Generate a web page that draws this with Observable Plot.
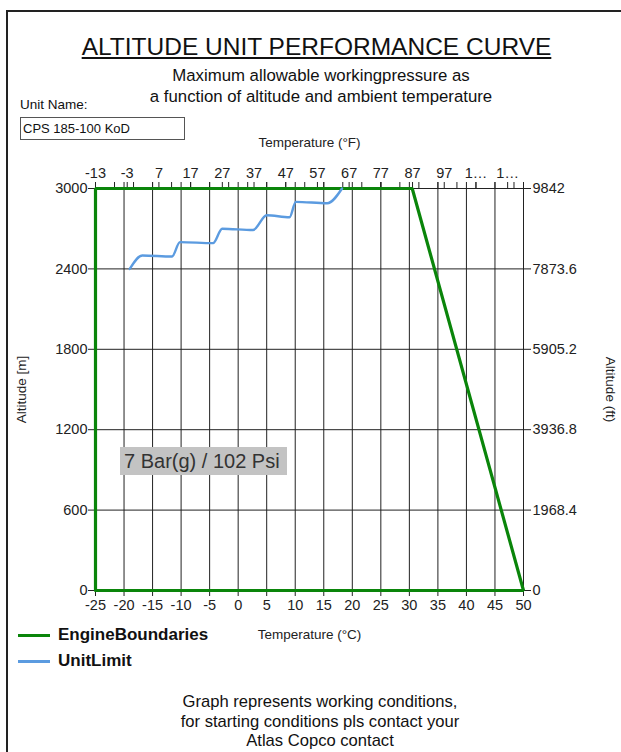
<!DOCTYPE html>
<html><head><meta charset="utf-8">
<script src="https://cdn.jsdelivr.net/npm/d3@7"></script>
<script src="https://cdn.jsdelivr.net/npm/@observablehq/plot@0.6"></script>
<style>
body{margin:0;background:#fff;font-family:"Liberation Sans",Arial,sans-serif;color:#111;}
#page{position:relative;width:621px;height:752px;overflow:hidden;background:#fff;}
#frame{position:absolute;left:6px;top:10px;width:700px;height:800px;border:2px solid #222;box-sizing:border-box;}
.t{position:absolute;white-space:nowrap;}
#chart{position:absolute;left:0;top:130px;}
.leg{position:absolute;left:18px;width:32px;height:3px;}
.legt{position:absolute;left:58px;font-weight:bold;font-size:17px;line-height:20px;}
</style></head><body>
<div id="page">
 <div id="frame"></div>
 <div class="t" style="left:0;width:633px;text-align:center;top:33px;font-size:24.5px;line-height:28px;text-decoration:underline;text-underline-offset:2px;">ALTITUDE UNIT PERFORMANCE CURVE</div>
 <div class="t" style="left:0;width:642px;text-align:center;top:65px;font-size:16.8px;line-height:21px;">Maximum allowable workingpressure as<br>a function of altitude and ambient temperature</div>
 <div class="t" style="left:20px;top:97px;font-size:13.5px;line-height:16px;">Unit Name:</div>
 <div class="t" style="left:20px;top:117px;width:165px;height:23px;border:1px solid #555;box-sizing:border-box;font-size:13px;line-height:21px;padding-left:2px;">CPS 185-100 KoD</div>
 <div id="chart"></div>
 <div class="t" style="left:120px;top:447px;width:167px;height:28px;background:#c3c3c3;font-size:20px;line-height:28px;padding-left:4px;box-sizing:border-box;color:#333;">7 Bar(g) / 102 Psi</div>
 <div class="leg" style="top:634px;background:#0a850a;"></div>
 <div class="legt" style="top:625px;">EngineBoundaries</div>
 <div class="leg" style="top:660px;background:#5b9be0;"></div>
 <div class="legt" style="top:651px;">UnitLimit</div>
 <div class="t" style="left:0;width:640px;text-align:center;top:692px;font-size:16.6px;line-height:19.5px;">Graph represents working conditions,<br>for starting conditions pls contact your<br>Atlas Copco contact</div>
</div>
<script>
// ---- data ----
const tempTicksC = [-25,-20,-15,-10,-5,0,5,10,15,20,25,30,35,40,45,50];
const altTicksM = [0,600,1200,1800,2400,3000];
const altFtLabels = ["0","1968.4","3936.8","5905.2","7873.6","9842"];
const tempTicksF = [-13,-3,7,17,27,37,47,57,67,77,87,97,107,117];
const tempFLabels = ["-13","-3","7","17","27","37","47","57","67","77","87","97","1…","1…"];
const engineTempC = [-25,-25,30.5,50,-25];
const engineAltM  = [0,3000,3000,0,0];
const unitTempC = [-19,-16.8,-11.6,-10.2,-4.4,-2.8,2.6,5,9,10.1,15.6,18.2];
const unitAltM  = [2400,2500,2492,2600,2592,2700,2690,2800,2785,2900,2890,3000];

const fToC = f => (f - 32) * 5 / 9;
const engine = engineTempC.map((t,i)=>({t, a: engineAltM[i]}));
const unit = unitTempC.map((t,i)=>({t, a: unitAltM[i]}));
const topTicks = tempTicksF.map(fToC);
const topLabel = new Map(topTicks.map((c,i)=>[c, tempFLabels[i]]));
const minorTop = d3.range(-13, 123, 6).map(fToC);
const ftLabel = new Map(altTicksM.map((m,i)=>[m, altFtLabels[i]]));

const ink = "#222";
const fs = 14.5;
const chart = Plot.plot({
  width: 621, height: 520,
  marginLeft: 95, marginRight: 98, marginTop: 58, marginBottom: 60,
  style: {fontFamily: '"Liberation Sans", Arial, sans-serif', fontSize: "14.5px", color: "#222", background: "transparent"},
  x: {domain: [-25, 50]},
  y: {domain: [0, 3000]},
  marks: [
    Plot.gridX(tempTicksC, {stroke: ink, strokeOpacity: 1, strokeWidth: 1}),
    Plot.gridY(altTicksM, {stroke: ink, strokeOpacity: 1, strokeWidth: 1}),
    Plot.frame({stroke: ink}),
    Plot.axisX({anchor: "bottom", ticks: tempTicksC, tickSize: 6, tickPadding: 3, fontSize: fs, tickFormat: d => String(d), label: null, stroke: ink}),
    Plot.axisX({anchor: "top", ticks: tempTicksC, tickSize: 7, tickFormat: () => "", label: null, stroke: ink}),
    Plot.axisX({anchor: "top", ticks: minorTop, tickSize: 7, tickFormat: () => "", label: null, stroke: ink}),
    Plot.axisX({anchor: "top", ticks: topTicks, tickSize: 7, tickPadding: 4, fontSize: fs, tickFormat: d => topLabel.get(d), label: null, stroke: ink}),
    Plot.axisY({anchor: "left", ticks: altTicksM, tickSize: 7, tickPadding: 1, fontSize: fs, tickFormat: d => String(d), label: null, stroke: ink}),
    Plot.axisY({anchor: "right", ticks: altTicksM, tickSize: 7, tickPadding: 2, fontSize: fs, tickFormat: d => ftLabel.get(d), label: null, stroke: ink}),
    Plot.line(engine, {x: "t", y: "a", stroke: "#0a850a", strokeWidth: 3.2, strokeLinejoin: "miter"}),
    Plot.line(unit, {x: "t", y: "a", stroke: "#5b9be0", strokeWidth: 2.4, curve: "monotone-x"}),
    Plot.text(["Temperature (°F)"], {text: d => d, frameAnchor: "top", textAnchor: "middle", dy: -51, fontSize: 13.5}),
    Plot.text(["Temperature (°C)"], {text: d => d, frameAnchor: "bottom", textAnchor: "middle", dy: 48, fontSize: 13.5}),
    Plot.text(["Altitude [m]"], {text: d => d, frameAnchor: "left", textAnchor: "middle", dx: -74, rotate: -90, fontSize: 13.5}),
    Plot.text(["Altitude (ft)"], {text: d => d, frameAnchor: "right", textAnchor: "middle", dx: 87, rotate: 90, fontSize: 13.5})
  ]
});
document.getElementById("chart").appendChild(chart);
</script>
</body></html>
